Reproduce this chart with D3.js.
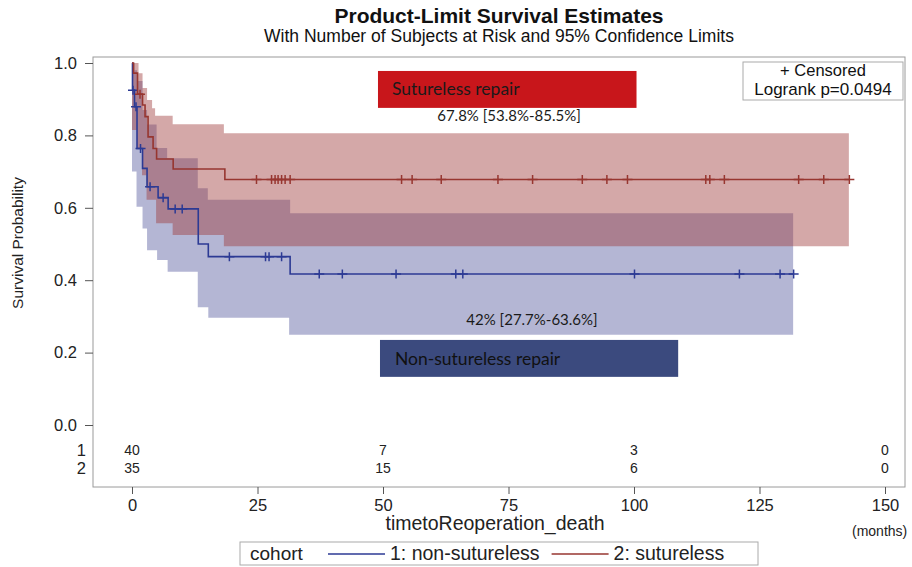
<!DOCTYPE html>
<html>
<head>
<meta charset="utf-8">
<script src="https://cdn.jsdelivr.net/npm/d3@7"></script>
<style>
  body { margin: 0; background: #fff; }
  svg { display: block; font-family: "Liberation Sans", Arial, sans-serif; }
</style>
</head>
<body>
<div id="chart"></div>
<script>
// KM step estimates [time, survival]
const nonSutureless = [[0, 1], [0.1, 0.925], [0.5, 0.879], [1.0, 0.764], [2.1, 0.709], [3.0, 0.658],
  [5.2, 0.628], [7.2, 0.597], [13.2, 0.5], [15.2, 0.465], [31.5, 0.417]];
const sutureless = [[0, 1], [0.3, 0.972], [1.1, 0.914], [2.1, 0.884], [2.6, 0.852], [3.2, 0.796],
  [4.2, 0.764], [4.9, 0.735], [8.2, 0.707], [18.5, 0.678]];
const nonSuturelessEnd = 131.8;
const suturelessEnd = 143;

// censored times
const nonSuturelessCens = [0.2, 0.8, 1.7, 3.6, 6.2, 8.6, 10.0, 19.4, 26.6, 27.3, 29.8, 37.3, 41.9,
  52.6, 64.5, 65.9, 100.1, 121, 129.1, 131.8];
const suturelessCens = [1.6, 24.8, 27.8, 28.5, 29.1, 29.8, 30.5, 31.5, 53.7, 55.8, 61.6, 72.9, 79.8,
  89.7, 94.6, 98.7, 114.3, 115.1, 118, 132.8, 137.8, 142.9];

// 95% confidence limits [time, value]
const nonSuturelessUpper = [[0, 1.0], [0.5, 0.98], [1.0, 0.95], [2.1, 0.87], [3.0, 0.83], [4.9, 0.765],
  [7.0, 0.737], [13.1, 0.654], [15.1, 0.622], [31.5, 0.585]];
const nonSuturelessLower = [[0, 0.70], [0.9, 0.603], [2.1, 0.543], [3.0, 0.483], [5.0, 0.456], [7.1, 0.423],
  [13.1, 0.325], [15.2, 0.296], [31.3, 0.249]];
const suturelessUpper = [[0, 1.0], [1.3, 0.972], [2.1, 0.931], [3.0, 0.898], [4.0, 0.875], [4.6, 0.854],
  [8.1, 0.831], [18.3, 0.806]];
const suturelessLower = [[0, 0.815], [1.0, 0.765], [2.0, 0.69], [2.9, 0.622], [4.8, 0.557], [8.1, 0.525],
  [18.3, 0.494]];
const nonSuturelessBandEnd = 131.7;
const suturelessBandEnd = 142.8;

// at risk table
const riskTimes = [0, 50, 100, 150];
const riskNonSutureless = [40, 7, 3, 0];
const riskSutureless = [35, 15, 6, 0];

const xTicks = [0, 25, 50, 75, 100, 125, 150];
const yTicks = [0, 0.2, 0.4, 0.6, 0.8, 1.0];

const blueLine = '#2c3a94', redLine = '#973630';
const blueFill = '#444994', redFill = '#9d3939';

const width = 912, height = 567;
const frame = { left: 93, right: 905, top: 57, bottom: 487 };

const svg = d3.select('#chart').append('svg')
  .attr('width', width)
  .attr('height', height);

const x = d3.scaleLinear().domain([0, 150]).range([132, 885]);
const y = d3.scaleLinear().domain([0, 1]).range([425, 63]);

// step lookup
function stepAt(steps, t) {
  let v = steps[0][1];
  for (const s of steps) { if (s[0] <= t) v = s[1]; }
  return v;
}

function bandData(upper, lower, end) {
  const ts = Array.from(new Set(upper.map(d => d[0]).concat(lower.map(d => d[0])))).sort((a, b) => a - b);
  ts.push(end);
  return ts.map(t => ({ t: t, lo: stepAt(lower, t), hi: stepAt(upper, t) }));
}

const area = d3.area()
  .curve(d3.curveStepAfter)
  .x(d => x(d.t))
  .y0(d => y(d.lo))
  .y1(d => y(d.hi));

const line = d3.line()
  .curve(d3.curveStepAfter)
  .x(d => x(d[0]))
  .y(d => y(d[1]));

// bands
svg.append('path')
  .datum(bandData(nonSuturelessUpper, nonSuturelessLower, nonSuturelessBandEnd))
  .attr('d', area)
  .attr('fill', blueFill)
  .attr('fill-opacity', 0.4);

svg.append('path')
  .datum(bandData(suturelessUpper, suturelessLower, suturelessBandEnd))
  .attr('d', area)
  .attr('fill', redFill)
  .attr('fill-opacity', 0.44);

// survival curves
const series = [
  { steps: nonSutureless, end: nonSuturelessEnd, cens: nonSuturelessCens, color: blueLine },
  { steps: sutureless, end: suturelessEnd, cens: suturelessCens, color: redLine }
];

series.forEach(s => {
  const pts = s.steps.concat([[s.end, s.steps[s.steps.length - 1][1]]]);
  svg.append('path')
    .datum(pts)
    .attr('d', line)
    .attr('fill', 'none')
    .attr('stroke', s.color)
    .attr('stroke-width', 1.6);

  svg.append('g').selectAll('path')
    .data(s.cens)
    .enter()
    .append('path')
    .attr('transform', t => `translate(${x(t)},${y(stepAt(s.steps, t))})`)
    .attr('d', 'M-5,0H5M0,-4.5V4.5')
    .attr('stroke', s.color)
    .attr('stroke-width', 1.5);
});

// frame
svg.append('rect')
  .attr('x', frame.left).attr('y', frame.top)
  .attr('width', frame.right - frame.left)
  .attr('height', frame.bottom - frame.top)
  .attr('fill', 'none')
  .attr('stroke', '#9a9a9a');

// y axis
const yAxis = svg.append('g')
  .attr('transform', `translate(${frame.left},0)`)
  .call(d3.axisLeft(y).tickValues(yTicks).tickFormat(d3.format('.1f')).tickSize(8).tickPadding(8));
yAxis.select('.domain').remove();
yAxis.selectAll('line').attr('stroke', '#555');
yAxis.selectAll('text').attr('font-size', 16.5).attr('fill', '#222').attr('font-family', null);

svg.append('text')
  .attr('transform', `translate(23,243) rotate(-90)`)
  .attr('text-anchor', 'middle')
  .attr('font-size', 15.5)
  .attr('fill', '#222')
  .text('Survival Probability');

// x axis
const xAxis = svg.append('g')
  .attr('transform', `translate(0,${frame.bottom})`)
  .call(d3.axisBottom(x).tickValues(xTicks).tickSize(7).tickPadding(5));
xAxis.select('.domain').remove();
xAxis.selectAll('line').attr('stroke', '#555');
xAxis.selectAll('text').attr('font-size', 16.5).attr('fill', '#222').attr('font-family', null);

svg.append('text')
  .attr('x', 495).attr('y', 530)
  .attr('text-anchor', 'middle')
  .attr('font-size', 19.5)
  .attr('fill', '#222')
  .text('timetoReoperation_death');

svg.append('text')
  .attr('x', 852).attr('y', 536)
  .attr('font-size', 14)
  .attr('fill', '#222')
  .text('(months)');

// at risk rows
const riskRows = [
  { label: '1', values: riskNonSutureless, yPos: 450 },
  { label: '2', values: riskSutureless, yPos: 468 }
];
riskRows.forEach(r => {
  svg.append('text')
    .attr('x', 86).attr('y', r.yPos)
    .attr('dy', '0.35em')
    .attr('text-anchor', 'end')
    .attr('font-size', 16.5)
    .attr('fill', '#222')
    .text(r.label);
  svg.append('g').selectAll('text')
    .data(r.values)
    .enter()
    .append('text')
    .attr('x', (d, i) => x(riskTimes[i]))
    .attr('y', r.yPos)
    .attr('dy', '0.35em')
    .attr('text-anchor', 'middle')
    .attr('font-size', 14)
    .attr('fill', '#222')
    .text(d => d);
});

// titles
svg.append('text')
  .attr('x', 499).attr('y', 23)
  .attr('text-anchor', 'middle')
  .attr('font-size', 21)
  .attr('font-weight', 'bold')
  .attr('fill', '#111')
  .text('Product-Limit Survival Estimates');

svg.append('text')
  .attr('x', 499).attr('y', 42)
  .attr('text-anchor', 'middle')
  .attr('font-size', 17.5)
  .attr('fill', '#111')
  .text('With Number of Subjects at Risk and 95% Confidence Limits');

// censored / logrank box
svg.append('rect')
  .attr('x', 743).attr('y', 62)
  .attr('width', 160).attr('height', 38)
  .attr('fill', '#fff')
  .attr('stroke', '#aaa');
svg.append('text')
  .attr('x', 823).attr('y', 76)
  .attr('text-anchor', 'middle')
  .attr('font-size', 16.5)
  .attr('fill', '#111')
  .text('+ Censored');
svg.append('text')
  .attr('x', 823).attr('y', 95)
  .attr('text-anchor', 'middle')
  .attr('font-size', 17)
  .attr('fill', '#111')
  .text('Logrank p=0.0494');

// annotation boxes
const annFont = 'Lato, "Open Sans", sans-serif';
svg.append('rect')
  .attr('x', x(49)).attr('y', y(0.978))
  .attr('width', x(100.5) - x(49)).attr('height', y(0.876) - y(0.978))
  .attr('fill', '#c8161b');
svg.append('text')
  .attr('x', x(49) + 14).attr('y', y(0.928))
  .attr('dy', '0.35em')
  .attr('font-family', annFont)
  .attr('font-size', 17.5)
  .attr('fill', '#1a1a1a')
  .text('Sutureless repair');
svg.append('text')
  .attr('x', 509).attr('y', y(0.855))
  .attr('dy', '0.35em')
  .attr('text-anchor', 'middle')
  .attr('font-family', annFont)
  .attr('font-size', 15)
  .attr('fill', '#1a1a1a')
  .text('67.8% [53.8%-85.5%]');

svg.append('text')
  .attr('x', 532).attr('y', y(0.29))
  .attr('dy', '0.35em')
  .attr('text-anchor', 'middle')
  .attr('font-family', annFont)
  .attr('font-size', 15)
  .attr('fill', '#1a1a1a')
  .text('42% [27.7%-63.6%]');
svg.append('rect')
  .attr('x', x(49.4)).attr('y', y(0.235))
  .attr('width', x(108.8) - x(49.4)).attr('height', y(0.133) - y(0.235))
  .attr('fill', '#3b4a7e');
svg.append('text')
  .attr('x', x(49.4) + 15).attr('y', y(0.184))
  .attr('dy', '0.35em')
  .attr('font-family', annFont)
  .attr('font-size', 17.5)
  .attr('fill', '#111')
  .text('Non-sutureless repair');

// legend
const legend = svg.append('g');
legend.append('rect')
  .attr('x', 240).attr('y', 542)
  .attr('width', 518).attr('height', 23)
  .attr('fill', '#fff')
  .attr('stroke', '#aaa');
legend.append('text')
  .attr('x', 250).attr('y', 560)
  .attr('font-size', 19)
  .attr('fill', '#222')
  .text('cohort');
const legendItems = [
  { label: '1: non-sutureless', color: blueLine },
  { label: '2: sutureless', color: redLine }
];
let lx = 328;
legendItems.forEach(it => {
  legend.append('line')
    .attr('x1', lx).attr('x2', lx + 57)
    .attr('y1', 554).attr('y2', 554)
    .attr('stroke', it.color)
    .attr('stroke-width', 1.6);
  const t = legend.append('text')
    .attr('x', lx + 62).attr('y', 560)
    .attr('font-size', 19.5)
    .attr('fill', '#222')
    .text(it.label);
  lx = lx + 62 + t.node().getComputedTextLength() + 12;
});
</script>
</body>
</html>
